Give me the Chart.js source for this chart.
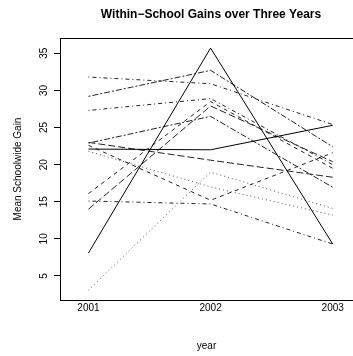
<!DOCTYPE html>
<html>
<head>
<meta charset="utf-8">
<script src="https://cdn.jsdelivr.net/npm/chart.js@4"></script>
<style>
  html, body { margin: 0; padding: 0; background: #fff; }
  #wrap { width: 353px; height: 356px; }
</style>
</head>
<body>
<div id="wrap"><canvas id="gainChart" width="353" height="356"></canvas></div>
<script>
// Data (one entry per school)
const years = [2001, 2002, 2003];
const gain2001 = [8.1, 22.1, 31.8, 29.2, 27.3, 23.0, 22.6, 21.8, 3.1, 16.1, 14.0, 22.9, 15.1];
const gain2002 = [35.7, 22.0, 30.9, 32.7, 28.9, 20.6, 15.2, 17.0, 19.0, 28.5, 27.9, 26.5, 14.7];
const gain2003 = [9.3, 25.3, 25.4, 22.4, 20.0, 18.3, 21.6, 13.2, 14.1, 19.5, 20.4, 16.95, 9.3];
const yTicks = [5, 10, 15, 20, 25, 30, 35];

const chartTitle = 'Within\u2212School Gains over Three Years';
const FONT = '"Liberation Sans", Arial, Helvetica, sans-serif';

// R-style line types
const dashes = {
  solid: [],
  dashed: [4, 4],
  dotted: [1, 3],
  dotdash: [1, 3, 4, 3],
  longdash: [7, 3],
  twodash: [2, 2, 6, 2]
};
const lineTypes = ['solid', 'solid', 'dotdash', 'twodash', 'dotdash', 'longdash', 'dashed',
  'dotted', 'dotted', 'dashed', 'longdash', 'twodash', 'dotdash'];

const datasets = gain2001.map((g, i) => ({
  data: [
    { x: years[0], y: g },
    { x: years[1], y: gain2002[i] },
    { x: years[2], y: gain2003[i] }
  ],
  borderColor: lineTypes[i] === 'dotted' ? '#555' : (lineTypes[i] === 'solid' ? '#000' : '#222'),
  borderWidth: 1,
  borderDash: dashes[lineTypes[i]],
  pointRadius: 0,
  fill: false,
  tension: 0
}));

// Rotated y tick labels, main title and the top edge of the box
const extras = {
  id: 'extras',
  afterDraw(chart) {
    const { ctx, chartArea, scales: { y } } = chart;
    ctx.save();
    ctx.fillStyle = '#000';
    ctx.font = '10px ' + FONT;
    ctx.textAlign = 'center';
    ctx.textBaseline = 'middle';
    yTicks.forEach(v => {
      const py = y.getPixelForValue(v);
      ctx.save();
      ctx.translate(44, py);
      ctx.rotate(-Math.PI / 2);
      ctx.fillText(String(v), 0, 0);
      ctx.restore();
    });

    ctx.font = 'bold 12px ' + FONT;
    ctx.textBaseline = 'alphabetic';
    ctx.fillText(chartTitle, 211, 18);

    ctx.strokeStyle = '#000';
    ctx.lineWidth = 1;
    ctx.beginPath();
    ctx.moveTo(chartArea.left, chartArea.top + 0.5);
    ctx.lineTo(chartArea.right, chartArea.top + 0.5);
    ctx.stroke();
    ctx.restore();
  }
};

new Chart(document.getElementById('gainChart'), {
  type: 'line',
  data: { datasets },
  plugins: [extras],
  options: {
    responsive: false,
    animation: false,
    devicePixelRatio: 1,
    layout: { padding: { top: 38, left: 0, right: 0, bottom: 0 } },
    plugins: {
      legend: { display: false },
      tooltip: { enabled: false },
      title: { display: false }
    },
    scales: {
      x: {
        type: 'linear',
        min: 2000.767,
        max: 2003.166,
        afterBuildTicks: s => { s.ticks = years.map(v => ({ value: v })); },
        afterFit: s => { s.height = 56; },
        grid: { display: false, drawTicks: false, tickLength: 0 },
        border: { display: true, color: '#000', width: 1 },
        ticks: {
          color: '#000',
          font: { family: FONT, size: 10 },
          padding: 2,
          maxRotation: 0,
          autoSkip: false,
          callback: v => String(v)
        },
        title: {
          display: true,
          text: 'year',
          color: '#000',
          font: { family: FONT, size: 10 },
          padding: { top: 0, bottom: 3.5 }
        }
      },
      y: {
        min: 1.765,
        max: 37.06,
        afterBuildTicks: s => { s.ticks = yTicks.map(v => ({ value: v })); },
        afterFit: s => { s.width = 60; },
        grid: { display: true, drawOnChartArea: false, drawTicks: true, tickLength: 6, color: '#000' },
        border: { display: true, color: '#000', width: 1 },
        ticks: { display: false },
        title: {
          display: true,
          text: 'Mean Schoolwide Gain',
          color: '#000',
          font: { family: FONT, size: 10 },
          padding: { top: 12, bottom: 0 }
        }
      }
    }
  }
});
</script>
</body>
</html>
